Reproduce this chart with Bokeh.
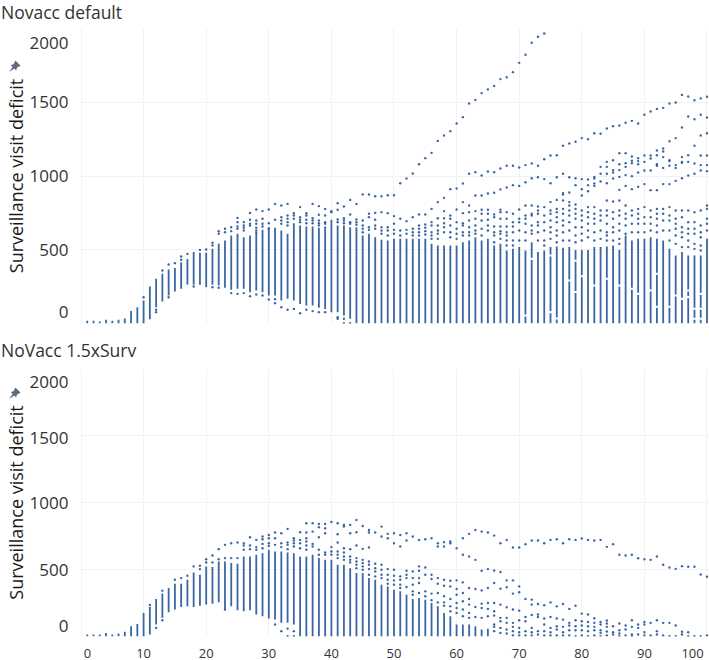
from bokeh.embed import file_html
from bokeh.resources import INLINE
from bokeh.plotting import figure
from bokeh.layouts import column
from bokeh.models import FixedTicker, Range1d, ColumnDataSource, Div

TITLES = ["Novacc default", "NoVacc 1.5xSurv"]
Y_LABEL = "Surveillance visit deficit"
Y_TICKS = [0, 500, 1000, 1500, 2000]
X_TICKS = [0, 10, 20, 30, 40, 50, 60, 70, 80, 90, 100]
DAYS = list(range(1, 101))

# ---------- Panel 1: dense column of each day, from low to high ----------
P1_HIGH = [18, 18, 14, 25, 18, 25, 34, 84, 111, 156, 251, 303, 337, 366, 377, 416, 438, 484, 479, 479,
           506, 540, 563, 597, 608, 585, 597, 608, 635, 653, 649, 631, 608, 680, 664, 658, 658, 649, 658, 703,
           664, 664, 653, 653, 597, 608, 585, 567, 563, 574, 574, 574, 574, 574, 574, 540, 529, 529, 529, 529,
           551, 563, 585, 563, 574, 529, 540, 495, 506, 518, 495, 551, 484, 495, 518, 522, 513, 518, 499, 499,
           499, 518, 518, 522, 529, 499, 597, 563, 574, 574, 585, 574, 563, 506, 461, 484, 461, 461, 461, 574]
P1_LOW = [0, 0, 0, 0, 0, 0, 0, 0, 0, 0, 29, 111, 149, 190, 217, 235, 264, 262, 262, 246,
          262, 258, 242, 228, 235, 235, 212, 224, 212, 190, 190, 156, 167, 156, 133, 122, 122, 106, 99, 77,
          77, 54, 32] + [0] * 57
P1_GAPS = {71: [54], 72: [438], 75: [461, 77], 76: [34], 78: [291], 79: [425, 213], 80: [320], 82: [258],
           84: [303], 86: [258], 88: [235], 89: [201], 91: [224], 92: [337, 113], 94: [113], 95: [190],
           96: [167], 97: [224, 179], 98: [100, 32], 99: [201, 100, 32]}

# Panel 1: single points outside the dense columns
P1_DOTS = {
    10: [178], 12: [93, 77], 13: [359], 14: [400, 178], 15: [409], 16: [454, 432], 17: [472], 18: [251],
    19: [499], 20: [502], 21: [547, 529, 246], 22: [608, 626, 242], 23: [642, 619], 24: [653, 626, 206],
    25: [716, 687, 658, 642, 201], 26: [687, 664, 649, 631, 206], 27: [750, 703, 676, 664, 185],
    28: [773, 698, 676, 649, 631, 615, 197], 29: [762, 710, 676, 658, 190], 30: [773, 680, 642, 163],
    31: [811, 703, 165, 138], 32: [800, 721, 698, 676, 111], 33: [811, 732, 710, 687, 664, 93],
    34: [748, 732, 710, 99], 35: [789, 721, 703, 687, 70], 36: [748, 732, 703, 680, 93],
    37: [811, 714, 698, 680, 84], 38: [796, 737, 698, 680, 664, 77], 39: [777, 732, 687, 676, 77],
    40: [755, 762], 41: [816, 771, 705, 687, 43, 32], 42: [793, 714, 698, 680, 32, 2], 43: [838, 739, 687, 676, 2],
    44: [811, 705, 687, 669], 45: [875, 698, 664, 642, 619], 46: [875, 744, 721, 653, 635],
    47: [863, 750, 703, 664, 642], 48: [863, 755, 653, 631, 608], 49: [870, 748, 653, 631, 597],
    50: [870, 728, 676, 635, 608], 51: [951, 710, 631, 597], 52: [694, 635, 608], 53: [721, 642, 619, 597],
    54: [739, 664, 642, 619, 597], 55: [739, 671, 649, 626, 603], 56: [777, 687, 664, 619, 597, 574],
    57: [823, 714, 664, 631, 608, 574], 58: [852, 762, 714, 680, 653, 619], 59: [732, 710, 664, 619, 585],
    60: [773, 687, 642, 608, 574], 61: [823, 748, 680, 664, 619, 597], 62: [800, 755, 698, 653, 619, 597],
    63: [762, 710, 664, 631, 608], 64: [771, 744, 698, 642, 597], 65: [771, 744, 703, 664, 631],
    66: [739, 721, 658, 619, 597, 551], 67: [771, 755, 710, 658, 626, 608, 574],
    68: [755, 710, 658, 619, 597, 563, 529], 69: [744, 687, 658, 619, 563, 529], 70: [773, 710, 687, 631, 563],
    71: [800, 732, 710, 676, 619, 563], 72: [800, 744, 732, 664, 631, 608], 73: [793, 766, 744, 687, 664, 619, 563],
    74: [789, 732, 687, 631, 563, 529], 75: [823, 766, 744, 698, 653, 619, 574],
    76: [838, 777, 755, 721, 687, 631, 597, 551], 77: [884, 834, 777, 744, 698, 664, 619, 563, 875],
    78: [823, 800, 766, 732, 687, 631, 563, 888], 79: [807, 777, 744, 710, 653, 597, 551, 938],
    80: [868, 766, 732, 698, 653, 608, 563, 911], 81: [789, 755, 721, 676, 631, 585, 938, 897],
    82: [789, 744, 710, 676, 619, 563, 983, 949, 933], 83: [766, 732, 698, 631, 574, 1062, 1015],
    84: [834, 766, 732, 676, 619, 597, 563, 1096, 1062, 1015], 85: [827, 755, 710, 653, 619, 563, 1107, 1040, 1024],
    86: [834, 766, 732, 676, 631, 574, 540, 1155, 1080, 1040, 906], 87: [800, 744, 710, 664, 608, 1155, 1087, 1062, 933],
    88: [766, 732, 676, 619, 1132, 1103, 1087, 911], 89: [777, 744, 710, 676, 619, 1121, 1101, 1080, 927],
    90: [789, 721, 676, 619, 1139, 1096, 945], 91: [766, 721, 676, 631, 1139, 1119, 904],
    92: [777, 744, 710, 664, 619, 1173, 1141, 1080, 1069, 904], 93: [777, 744, 698, 631, 1186, 1166, 1128, 1055, 945],
    94: [789, 732, 698, 631, 563, 1236, 1107, 1101, 1069, 945], 95: [766, 710, 676, 642, 597, 540, 1257, 1074, 1055, 967],
    96: [766, 721, 653, 619, 585, 518, 1329, 1128, 1096, 1089, 985], 97: [766, 687, 642, 608, 563, 518, 1403, 1141, 1096, 1003],
    98: [755, 687, 642, 608, 540, 506, 1385, 1205, 1085, 1015], 99: [766, 664, 619, 585, 529, 495, 1415, 1275, 1139, 1074, 1037],
    100: [800, 777, 710, 676, 631, 1397, 1290, 1139, 1074, 1033],
}

# Panel 1: the three runs that climb out of the cloud
P1_RUN_A_DAYS = list(range(52, 75))
P1_RUN_A = [983, 1017, 1080, 1121, 1157, 1238, 1275, 1304, 1356, 1399, 1492, 1516, 1562, 1587, 1611, 1657,
            1670, 1704, 1767, 1822, 1903, 1944, 1966]
P1_RUN_B_DAYS = list(range(59, 101))
P1_RUN_B = [911, 915, 949, 1015, 1026, 1003, 1031, 1026, 1051, 1069, 1069, 1058, 1074, 1085, 1069, 1114, 1139,
            1141, 1205, 1220, 1232, 1257, 1250, 1290, 1286, 1322, 1338, 1342, 1361, 1374, 1356, 1415, 1437, 1455,
            1462, 1492, 1498, 1550, 1539, 1514, 1526, 1537]
P1_RUN_C_DAYS = list(range(63, 92))
P1_RUN_C = [868, 868, 881, 886, 909, 922, 938, 933, 958, 985, 992, 979, 951, 992, 1015, 992, 985, 979, 976, 994,
            963, 951, 983, 994, 1006, 999, 1024, 1037, 1037]

# ---------- Panel 2 ----------
P2_HIGH = [15, 15, 15, 27, 15, 22, 35, 77, 94, 176, 220, 280, 320, 362, 394, 394, 424, 478, 461, 523,
           518, 560, 560, 548, 543, 597, 597, 610, 622, 647, 634, 634, 627, 622, 597, 597, 610, 585, 572, 572,
           535, 535, 510, 473, 473, 436, 424, 387, 374, 349, 337, 312, 280, 287, 275, 250, 225, 176, 151, 89,
           89, 89, 77, 52, 57] + [0] * 35
P2_LOW = [0, 0, 0, 0, 0, 0, 0, 0, 0, 0, 15, 89, 139, 181, 201, 220, 225, 220, 230, 238,
          245, 255, 206, 225, 196, 188, 196, 164, 151, 134, 126, 102, 102, 89] + [0] * 66
P2_DOTS = {
    11: [235], 12: [64], 13: [342, 121], 15: [424], 16: [436], 17: [453], 18: [523], 19: [503, 528], 20: [577, 553],
    21: [605, 553], 22: [652, 577], 23: [684, 585, 201], 24: [696, 585], 25: [701, 585], 26: [696, 679, 647],
    27: [741, 679, 652], 28: [721, 667, 647], 29: [746, 726, 691, 659], 30: [758, 733, 696, 676],
    31: [776, 733, 684, 89], 32: [771, 696, 667, 40], 33: [803, 701, 684, 652, 59, 2], 34: [733, 716, 696, 672, 40, 2],
    35: [778, 721, 696, 659], 36: [845, 776, 733, 709, 679, 647], 37: [845, 783, 691, 672], 38: [840, 815, 741, 647, 610],
    39: [840, 808, 771, 627, 610], 40: [855, 667, 634, 610], 41: [845, 763, 701, 634, 610, 585],
    42: [833, 820, 659, 627, 597, 572], 43: [833, 771, 652, 597, 572, 553], 44: [870, 778, 679, 585, 560, 535, 510],
    45: [825, 654, 572, 548, 523, 498], 46: [795, 776, 664, 560, 535, 503, 461], 47: [776, 543, 510, 486, 449],
    48: [820, 746, 535, 498, 461, 436], 49: [766, 733, 503, 461, 424, 394], 50: [770, 696, 498, 453, 419, 387],
    51: [758, 672, 449, 424, 387, 362], 52: [771, 716, 491, 461, 436, 369], 53: [746, 486, 436, 387, 337, 312],
    54: [721, 523, 491, 436, 399, 325], 55: [726, 515, 461, 337, 300], 56: [733, 461, 429, 320, 270],
    57: [696, 672, 436, 394, 325, 255], 58: [704, 672, 424, 379, 300, 255, 230], 59: [709, 696, 416, 374, 280, 225, 188],
    60: [659, 419, 354, 312, 250, 213, 176], 61: [733, 610, 404, 325, 263, 201, 151],
    62: [766, 597, 362, 280, 238, 176, 139], 63: [795, 572, 354, 220, 146], 64: [783, 491, 344, 245, 213, 139],
    65: [776, 503, 362, 250, 206, 151], 66: [753, 493, 399, 250, 188, 156, 89, 72, 40],
    67: [696, 481, 357, 238, 139, 114, 64, 27], 68: [721, 419, 367, 218, 139, 102, 52, 22],
    69: [664, 419, 320, 201, 102, 72, 40, 7], 70: [664, 374, 330, 193, 121, 64, 32, 7], 71: [689, 280, 146, 114, 40, 7],
    72: [716, 275, 238, 161, 64, 32, 7], 73: [716, 243, 164, 146, 40, 15], 74: [696, 233, 134, 89, 40, 7],
    75: [721, 255, 146, 64, 32, 7], 76: [726, 225, 134, 77, 52, 7], 77: [696, 243, 126, 72, 32, 7],
    78: [726, 206, 102, 82, 47, 7], 79: [721, 230, 121, 77, 47, 2], 80: [731, 171, 114, 82, 47, 7],
    81: [721, 164, 109, 77, 40, 2], 82: [716, 136, 102, 72, 47, 7], 83: [721, 109, 89, 47, 27, 2],
    84: [669, 119, 97, 72, 37, 7], 85: [689, 77, 32, 15], 86: [610, 97, 47, 22, 2], 87: [605, 82, 52, 7],
    88: [610, 121, 72, 15, 2], 89: [584, 89, 64, 15], 90: [577, 109, 89, 32, 7], 91: [572, 102, 7],
    92: [597, 121, 40, 15], 93: [535, 102, 7], 94: [515, 102, 2], 95: [505, 82, 2], 96: [525, 35, 15],
    97: [520, 32, 2], 98: [520, 2], 99: [463, 2], 100: [446, 7],
}

BLUE = "#2f5f9e"
GRID = "#f2f2f3"
TEXT = "#333333"
FONT = "Open Sans"


def split_band(low, high, gaps, half):
    lo, hi = [], []
    cur = low
    for g in sorted(gaps):
        if cur < g - half < high:
            lo.append(cur)
            hi.append(g - half)
            cur = g + half
    lo.append(cur)
    hi.append(high)
    return lo, hi


def panel(high, low, gaps, dots, runs, height, top, bottom, show_x, y_label_pos):
    p = figure(width=709, height=height, output_backend="svg", toolbar_location=None,
               x_range=Range1d(-0.08, 100.24), y_range=Range1d(0, 2000),
               min_border_left=80, min_border_right=1, min_border_top=top, min_border_bottom=bottom,
               background_fill_color="white", border_fill_color="white", outline_line_color=None)
    band_x, band_lo, band_hi = [], [], []
    for d, h, l in zip(DAYS, high, low):
        if h <= 0:
            continue
        los, his = split_band(l, h, gaps.get(d, []), 7)
        for a, b in zip(los, his):
            band_x.append(d)
            band_lo.append(a)
            band_hi.append(b)
    p.vbar(x="x", bottom="lo", top="hi", width=0.29, color=BLUE, line_color=None, fill_alpha=0.95,
           source=ColumnDataSource(dict(x=band_x, lo=band_lo, hi=band_hi)))
    dx, dy = [], []
    for d, vals in dots.items():
        dx += [d] * len(vals)
        dy += vals
    for rd, rv in runs:
        dx += rd
        dy += rv
    p.scatter(x=dx, y=dy, size=2.4, color=BLUE, line_color=None, fill_alpha=0.95)

    # tick labels at the plot's ends sit inside it, as in the reference: the axis ticks
    # carry the labels while the grid keeps the true tick values
    y_at = dict(zip(y_label_pos, Y_TICKS))
    x_at = {1.04: X_TICKS[0], **{t: t for t in X_TICKS[1:-1]}, 97.7: X_TICKS[-1]}
    p.yaxis.ticker = FixedTicker(ticks=y_label_pos)
    p.xaxis.ticker = FixedTicker(ticks=list(x_at))
    p.yaxis.major_label_overrides = {k: str(v) for k, v in y_at.items()}
    p.xaxis.major_label_overrides = {k: str(v) for k, v in x_at.items()}
    p.yaxis.axis_label = Y_LABEL
    p.yaxis.axis_label_text_font = FONT
    p.yaxis.axis_label_text_font_size = "18px"
    p.yaxis.axis_label_text_font_style = "normal"
    p.yaxis.axis_label_text_color = "#1a1a1a"
    p.yaxis.axis_label_standoff = -1
    p.yaxis.major_label_text_font = FONT
    p.yaxis.major_label_text_font_size = "17px"
    p.yaxis.major_label_text_color = TEXT
    p.yaxis.major_label_standoff = 6
    p.xaxis.major_label_text_font = FONT
    p.xaxis.major_label_text_font_size = "13px"
    p.xaxis.major_label_text_color = TEXT
    p.xaxis.major_label_standoff = 6
    for ax in (p.xaxis[0], p.yaxis[0]):
        ax.axis_line_color = None
        ax.major_tick_line_color = None
        ax.minor_tick_line_color = None
    p.xgrid.grid_line_color = GRID
    p.ygrid.grid_line_color = GRID
    p.xgrid.ticker = FixedTicker(ticks=X_TICKS)
    p.ygrid.ticker = FixedTicker(ticks=Y_TICKS)
    if not show_x:
        p.xaxis.visible = False
    return p


def title_div(text, top, line_height):
    return Div(text=text, width=300, height=line_height, margin=0,
               styles={"position": "absolute", "left": "1px", "top": f"{top}px", "font-family": FONT,
                       "font-size": "17.5px", "line-height": f"{line_height}px", "color": TEXT,
                       "white-space": "nowrap"})


def pin_div(top):
    svg = ('<svg width="12" height="12" viewBox="0 0 12 12" style="display:block;overflow:visible">'
           '<path d="M0 12 L3.6 7 L1.8 5 L4.6 4.2 L6.4 0.6 L11.6 5.8 L8 7.6 L7.2 10.4 L5.2 8.6 Z" '
           'fill="#5b6b7d"/></svg>')
    return Div(text=svg, width=12, height=12, margin=0,
               styles={"position": "absolute", "left": "9px", "top": f"{top}px",
                       "width": "12px", "height": "12px"})


p1 = panel(P1_HIGH, P1_LOW, P1_GAPS, P1_DOTS,
           [(P1_RUN_A_DAYS, P1_RUN_A), (P1_RUN_B_DAYS, P1_RUN_B), (P1_RUN_C_DAYS, P1_RUN_C)],
           340, 28, 17, False, [75, 500, 1000, 1500, 1905])
p2 = panel(P2_HIGH, P2_LOW, {}, P2_DOTS, [], 320, 28, 23, True, [82, 500, 1000, 1485, 1896])

page = column(p1, p2, title_div(TITLES[0], 0, 24), title_div(TITLES[1], 338, 24), pin_div(60), pin_div(387),
              spacing=0, styles={"position": "absolute", "left": "0px", "top": "0px"})
open("out.html", "w").write(file_html(page, INLINE))
